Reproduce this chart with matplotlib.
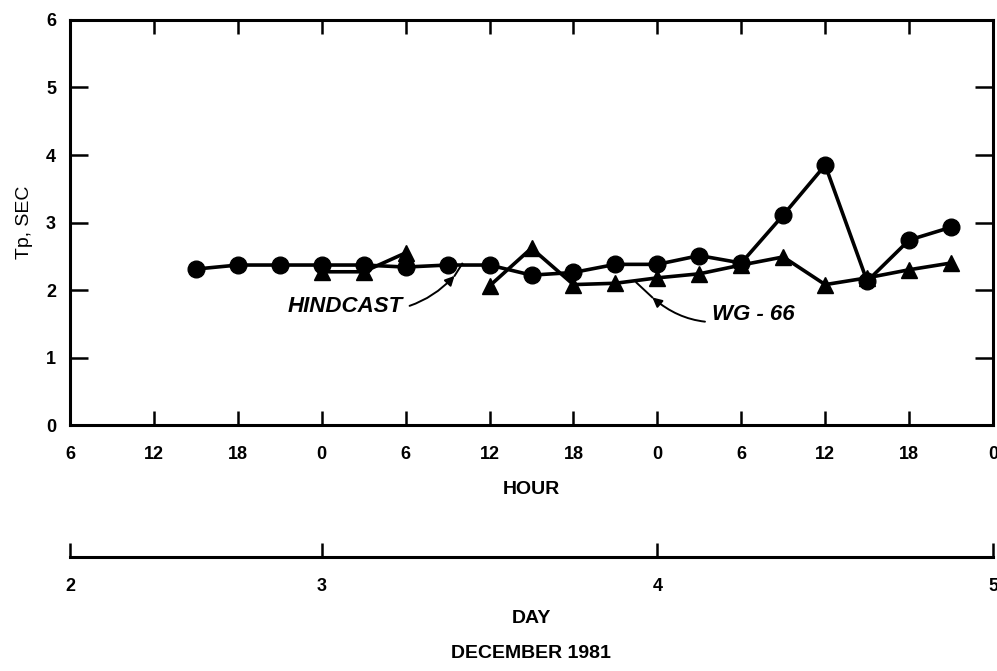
import numpy as np
import matplotlib
matplotlib.use("Agg")
import matplotlib.pyplot as plt

plt.rcParams['font.family'] = ['Liberation Sans', 'DejaVu Sans']
plt.rcParams['font.weight'] = 'bold'

# Time axis: hours since 00:00 on 2 December 1981
hindcast_hours = [15, 18, 21, 24, 27, 30, 33, 36, 39, 42, 45, 48, 51, 54, 57, 60, 63, 66, 69]
hindcast_tp = [2.31, 2.37, 2.37, 2.37, 2.37, 2.34, 2.37, 2.37, 2.22, 2.26, 2.38, 2.38,
               2.51, 2.40, 3.11, 3.85, 2.13, 2.74, 2.93]

gauge_hours = [24, 27, 30, 33, 36, 39, 42, 45, 48, 51, 54, 57, 60, 63, 66, 69]
gauge_tp = [2.27, 2.27, 2.55, np.nan, 2.06, 2.62, 2.08, 2.10, 2.18, 2.24, 2.37, 2.49,
            2.08, 2.18, 2.30, 2.40]

hour_ticks = [6, 12, 18, 24, 30, 36, 42, 48, 54, 60, 66, 72]
hour_labels = ['6', '12', '18', '0', '6', '12', '18', '0', '6', '12', '18', '0']
day_ticks = [6, 24, 48, 72]
day_labels = ['2', '3', '4', '5']
y_ticks = [0, 1, 2, 3, 4, 5, 6]

fig = plt.figure(figsize=(9.97, 6.71), dpi=100)
ax = fig.add_axes([0.0702, 0.3666, 0.9258, 0.6036])

ax.plot(hindcast_hours, hindcast_tp, color='black', lw=2.6, marker='o', ms=12, zorder=3)
ax.plot(gauge_hours, gauge_tp, color='black', lw=2.6, marker='^', ms=12, zorder=3)

ax.set_xlim(6, 72)
ax.set_ylim(0, 6)
ax.set_xticks(hour_ticks)
ax.set_xticklabels(hour_labels)
ax.set_yticks(y_ticks)
for s in ax.spines.values():
    s.set_linewidth(2.2)
ax.tick_params(axis='x', which='both', direction='in', length=10, width=1.8,
               top=True, labelsize=13, pad=15)
ax.tick_params(axis='y', which='both', direction='in', length=13, width=1.8,
               right=True, labelsize=13, pad=10)
ax.set_xlabel('HOUR', fontsize=14, fontweight='bold', labelpad=13)
ax.set_ylabel('Tp, SEC', fontsize=14, fontweight='normal', labelpad=9)

# Series labels with curved pointers; the arrowhead sits part way along each pointer
arrow_kw = dict(arrowstyle='-|>', color='black', lw=1.4, mutation_scale=14, shrinkA=3, shrinkB=0)
ax.annotate('HINDCAST', xy=(33.5, 2.21), xytext=(29.8, 1.76),
            fontsize=16, fontstyle='italic', fontweight='bold', ha='right', va='center',
            arrowprops=dict(connectionstyle='arc3,rad=0.3', **arrow_kw))
ax.plot([33.5, 34.05], [2.21, 2.39], color='black', lw=1.4)

ax.annotate('WG - 66', xy=(47.64, 1.89), xytext=(51.9, 1.64),
            fontsize=16, fontstyle='italic', fontweight='bold', ha='left', va='center',
            arrowprops=dict(connectionstyle='arc3,rad=-0.3', **arrow_kw))
ax.plot([47.64, 46.5], [1.89, 2.11], color='black', lw=1.4)

# Day axis beneath the hour axis
dax = fig.add_axes([0.0702, 1 - 557 / 671, 0.9258, 0.0001])
dax.set_xlim(6, 72)
dax.set_ylim(0, 1)
dax.set_yticks([])
for k in ['top', 'left', 'right']:
    dax.spines[k].set_visible(False)
dax.spines['bottom'].set_linewidth(2.2)
dax.set_xticks(day_ticks)
dax.set_xticklabels(day_labels)
dax.tick_params(axis='x', direction='in', length=10, width=1.8, labelsize=13, pad=15)
dax.set_xlabel('DAY', fontsize=14, fontweight='bold', labelpad=11)

fig.text(0.533, 1 - 653 / 671, 'DECEMBER 1981', fontsize=14, fontweight='bold',
         ha='center', va='center')

fig.savefig('out.png', dpi=100)
